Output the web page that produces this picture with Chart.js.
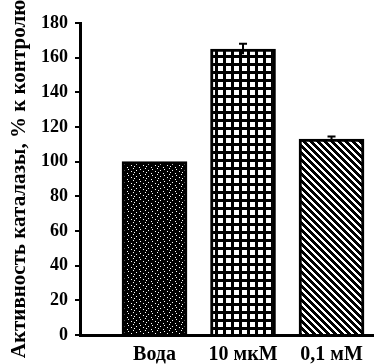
<!DOCTYPE html>
<html>
<head>
<meta charset="utf-8">
<script src="https://cdn.jsdelivr.net/npm/chart.js@4.4.1/dist/chart.umd.min.js"></script>
<style>
  html, body { margin: 0; padding: 0; background: #fff; }
  #wrap { width: 374px; height: 364px; }
</style>
</head>
<body>
<div id="wrap"><canvas id="c" width="374" height="364"></canvas></div>
<script>
const categories = ['Вода', '10 мкМ', '0,1 мМ'];
const values = [100, 165, 113];
const errors = [0, 3, 1.5];
const yTicks = [0, 20, 40, 60, 80, 100, 120, 140, 160, 180];
const yTitle = 'Активность каталазы, % к контролю';

function makePattern(kind) {
  const t = document.createElement('canvas');
  const ctx = t.getContext('2d');
  if (kind === 'stipple') {
    t.width = 12; t.height = 6;
    ctx.fillStyle = '#000'; ctx.fillRect(0, 0, 12, 6);
    ctx.fillStyle = '#fff';
    const dots = [[1,0],[8,1],[4,2],[11,3],[2,4],[7,5]];
    dots.forEach(([x, y]) => ctx.fillRect(x, y, 1, 1));
  } else if (kind === 'grid') {
    t.width = 8; t.height = 8;
    ctx.fillStyle = '#000'; ctx.fillRect(0, 0, 8, 8);
    ctx.fillStyle = '#fff'; ctx.fillRect(2, 2, 5, 5);
  } else {
    const n = 7;
    t.width = n; t.height = n;
    const img = ctx.createImageData(n, n);
    for (let y = 0; y < n; y++) for (let x = 0; x < n; x++) {
      const k = (((x - y) % n) + n) % n;
      const v = k < 4 ? 0 : 255;
      const i = (y * n + x) * 4;
      img.data[i] = v; img.data[i+1] = v; img.data[i+2] = v; img.data[i+3] = 255;
    }
    ctx.putImageData(img, 0, 0);
  }
  return document.getElementById('c').getContext('2d').createPattern(t, 'repeat');
}

const fills = [makePattern('stipple'), makePattern('grid'), makePattern('diag')];

const errorBars = {
  id: 'errorBars',
  afterDatasetsDraw(chart) {
    const meta = chart.getDatasetMeta(0);
    const ys = chart.scales.y;
    const ctx = chart.ctx;
    ctx.save();
    ctx.strokeStyle = '#000';
    ctx.lineWidth = 2;
    meta.data.forEach((el, i) => {
      if (!errors[i]) return;
      const top = ys.getPixelForValue(values[i] + errors[i]);
      const bot = ys.getPixelForValue(values[i] - errors[i]);
      ctx.beginPath();
      ctx.moveTo(el.x, top); ctx.lineTo(el.x, bot);
      ctx.moveTo(el.x - 4, top); ctx.lineTo(el.x + 4, top);
      ctx.stroke();
    });
    ctx.restore();
  }
};

const serif = '"Liberation Serif", "DejaVu Serif", serif';

new Chart(document.getElementById('c'), {
  type: 'bar',
  data: {
    datasets: [{
      data: categories.map((c, i) => ({ x: i, y: values[i] })),
      backgroundColor: fills,
      borderColor: '#000',
      borderWidth: 3,
      borderSkipped: 'bottom',
      barThickness: 65
    }]
  },
  options: {
    responsive: false,
    animation: false,
    devicePixelRatio: 1,
    layout: { padding: { top: 23, right: 0, bottom: 0, left: 0 } },
    plugins: { legend: { display: false }, tooltip: { enabled: false } },
    scales: {
      x: {
        type: 'linear',
        offset: false,
        min: -0.842,
        max: 2.48,
        grid: { display: false },
        border: { display: true, color: '#000', width: 3 },
        afterBuildTicks(scale) { scale.ticks = categories.map((_, i) => ({ value: i })); },
        afterFit(scale) { scale.height = 29; },
        ticks: {
          color: '#000',
          font: { family: serif, size: 20, weight: 'bold' },
          padding: 0,
          maxRotation: 0,
          autoSkip: false,
          callback: (v) => categories[v]
        }
      },
      y: {
        min: 0,
        max: 180,
        afterBuildTicks(scale) { scale.ticks = yTicks.map(v => ({ value: v })); },
        afterFit(scale) { scale.width = 80; },
        grid: { display: true, drawOnChartArea: false, drawTicks: true, tickLength: 5, color: '#000', lineWidth: 2 },
        border: { display: true, color: '#000', width: 3 },
        ticks: { color: '#000', font: { family: serif, size: 18, weight: 'bold' }, padding: 7 },
        title: {
          display: true,
          text: yTitle,
          color: '#000',
          font: { family: serif, size: 21, weight: 'bold' },
          padding: { top: 7, bottom: 0 }
        }
      }
    }
  },
  plugins: [errorBars]
});
</script>
</body>
</html>
